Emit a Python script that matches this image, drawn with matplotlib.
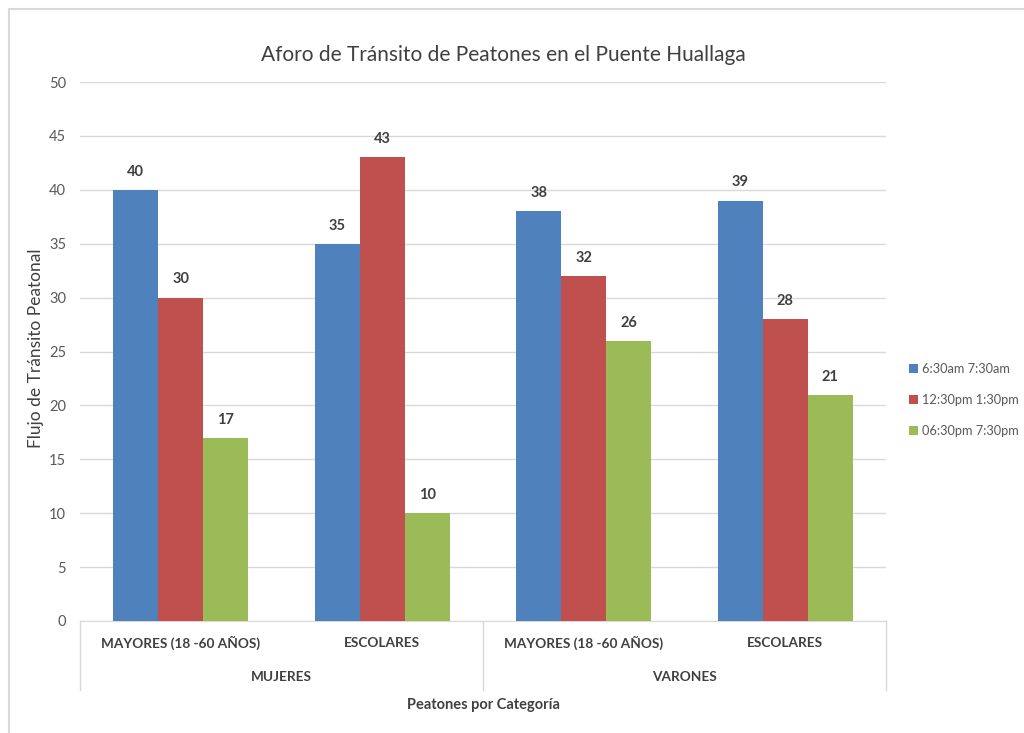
import matplotlib
matplotlib.use("Agg")
import matplotlib.pyplot as plt
from matplotlib.patches import Rectangle
from matplotlib.lines import Line2D

plt.rcParams['font.family'] = ['Lato', 'DejaVu Sans']

subcats = ["MAYORES (18 -60 AÑOS)", "ESCOLARES", "MAYORES (18 -60 AÑOS)", "ESCOLARES"]
groups = ["MUJERES", "VARONES"]
series_names = ["6:30am 7:30am", "12:30pm 1:30pm", "06:30pm 7:30pm"]
morning = [40, 35, 38, 39]
noon = [30, 43, 32, 28]
evening = [17, 10, 26, 21]
colors = ["#4F81BD", "#C0504D", "#9BBB59"]

W, H = 1024, 733
fig = plt.figure(figsize=(W/100, H/100), dpi=100)
fig.patch.set_facecolor("white")
fig.add_artist(Rectangle((9/W, -0.1), 1.2, (1 - 9/H) + 0.1, transform=fig.transFigure,
                         fill=False, edgecolor="#D9D9D9", linewidth=1.5))

ax = fig.add_axes([80/W, 1 - 621/H, 806/W, 539/H])
n = len(subcats)
bw = 0.223
series = [morning, noon, evening]
for i, (vals, c, nm) in enumerate(zip(series, colors, series_names)):
    xs = [k + (i - 1) * bw for k in range(n)]
    ax.bar(xs, vals, width=bw, color=c, label=nm, zorder=3)
    for x, v in zip(xs, vals):
        ax.annotate(str(v), (x, v), xytext=(0, 8), textcoords="offset points",
                    ha="center", va="bottom", fontsize=10.5, fontweight="bold",
                    color="#404040")

ax.set_xlim(-0.5, n - 0.5)
ax.set_ylim(0, 50)
ax.set_yticks(range(0, 51, 5))
ax.yaxis.grid(True, color="#D9D9D9", linewidth=1, zorder=0)
ax.tick_params(axis="y", length=0, labelsize=10.5, labelcolor="#595959", pad=10)
ax.tick_params(axis="x", length=0)
ax.set_xticks([])
for s in ["top", "right", "left"]:
    ax.spines[s].set_visible(False)
ax.spines["bottom"].set_color("#D9D9D9")

ax.set_ylabel("Flujo de Tránsito Peatonal", fontsize=12.5, color="#404040")
ax.yaxis.set_label_coords((44 - 80) / 806, (621 - 348) / 539)

trans = ax.get_xaxis_transform()
for k, s in enumerate(subcats):
    ax.text(k, -(643 - 621) / 539, s, transform=trans, ha="center", va="center",
            fontsize=9.8, color="#404040", fontweight="bold")
for g, name in enumerate(groups):
    ax.text(2 * g + 0.5, -(677 - 621) / 539, name, transform=trans, ha="center",
            va="center", fontsize=9.8, color="#404040", fontweight="bold")
for xb in [-0.5, 1.5, 3.5]:
    ax.add_line(Line2D([xb, xb], [0, -(690 - 621) / 539], transform=trans,
                       color="#D9D9D9", linewidth=1, clip_on=False))
ax.text(1.5, -(705 - 621) / 539, "Peatones por Categoría", transform=trans,
        ha="center", va="center", fontsize=10.5, color="#404040", fontweight="bold")

fig.text(503/W, 1 - 55/H, "Aforo de Tránsito de Peatones en el Puente Huallaga",
         ha="center", va="center", fontsize=15, color="#404040")

leg = ax.legend(loc="center left", frameon=False, fontsize=9.2, handlelength=0.7,
                handleheight=0.7, handletextpad=0.3, labelspacing=1.5, borderaxespad=0,
                borderpad=0)
for t in leg.get_texts():
    t.set_color("#595959")
leg.set_bbox_to_anchor((909/W, 1 - 400/H), transform=fig.transFigure)

fig.savefig("out.png", dpi=100)
